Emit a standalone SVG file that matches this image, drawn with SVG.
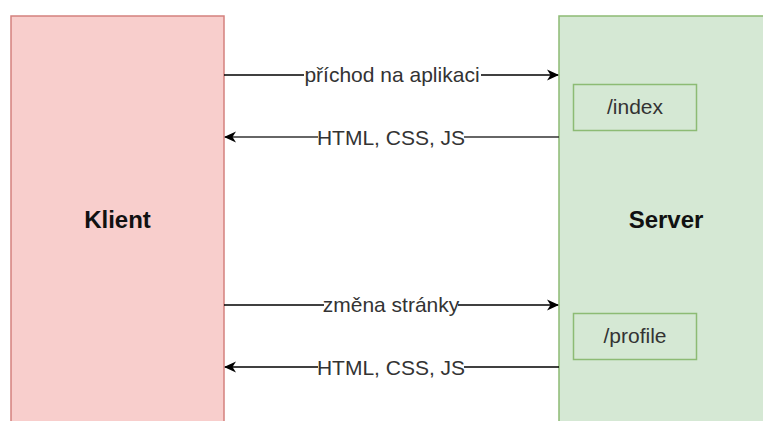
<svg xmlns="http://www.w3.org/2000/svg" width="763" height="421" viewBox="0 0 763 421">
  <style>
    .lane-client { fill: #f8cecc; stroke: #d4817e; stroke-width: 1.5; }
    .lane-server { fill: #d5e8d4; stroke: #8dbb74; stroke-width: 1.5; }
    .route { fill: none; stroke: #8dbb74; stroke-width: 1.5; }
    .title { font-family: "Liberation Sans", Arial, sans-serif; font-size: 24px; font-weight: bold; fill: #111; text-anchor: middle; }
    .route-text { font-family: "Liberation Sans", Arial, sans-serif; font-size: 21px; fill: #333; text-anchor: middle; }
    .edge { fill: none; stroke: #000; stroke-width: 1.5; }
    .edge-back { fill: none; stroke: #333; stroke-width: 1.5; }
    .edge-label { font-family: "Liberation Sans", Arial, sans-serif; font-size: 21px; fill: #333; text-anchor: middle; }
    .label-bg { fill: #fff; }
  </style>
  <defs>
    <marker id="arrow" viewBox="0 0 12 12" refX="11" refY="6" markerWidth="12" markerHeight="12" markerUnits="userSpaceOnUse" orient="auto">
      <path d="M0,0.5 L12,6 L0,11.5 L3.5,6 Z" fill="#000"/>
    </marker>
  </defs>

  <rect width="763" height="421" fill="#fff"/>

  <g id="klient">
    <rect class="lane-client" x="11" y="16" width="213" height="420"/>
    <text class="title" x="117.5" y="228">Klient</text>
  </g>

  <g id="server">
    <rect class="lane-server" x="559" y="16" width="220" height="420"/>
    <text class="title" x="666" y="228">Server</text>
  </g>

  <g id="route-index">
    <rect class="route" x="573.5" y="84.5" width="123" height="46"/>
    <text class="route-text" x="635" y="114">/index</text>
  </g>

  <g id="route-profile">
    <rect class="route" x="573.5" y="313.5" width="123" height="46"/>
    <text class="route-text" x="635" y="343">/profile</text>
  </g>

  <g id="connectors">
    <line class="edge" x1="224" y1="75" x2="558" y2="75" marker-end="url(#arrow)"/>
    <rect class="label-bg" x="304" y="63" width="177" height="24"/>
    <text class="edge-label" x="392" y="82">příchod na aplikaci</text>

    <line class="edge-back" x1="559" y1="137" x2="225" y2="137" marker-end="url(#arrow)"/>
    <rect class="label-bg" x="318" y="125" width="146" height="24"/>
    <text class="edge-label" x="391" y="144.5">HTML, CSS, JS</text>

    <line class="edge" x1="224" y1="305" x2="558" y2="305" marker-end="url(#arrow)"/>
    <rect class="label-bg" x="324" y="293" width="134" height="24"/>
    <text class="edge-label" x="391" y="312">změna stránky</text>

    <line class="edge" x1="559" y1="367" x2="225" y2="367" marker-end="url(#arrow)"/>
    <rect class="label-bg" x="318" y="355" width="146" height="24"/>
    <text class="edge-label" x="391" y="374.5">HTML, CSS, JS</text>
  </g>
</svg>
